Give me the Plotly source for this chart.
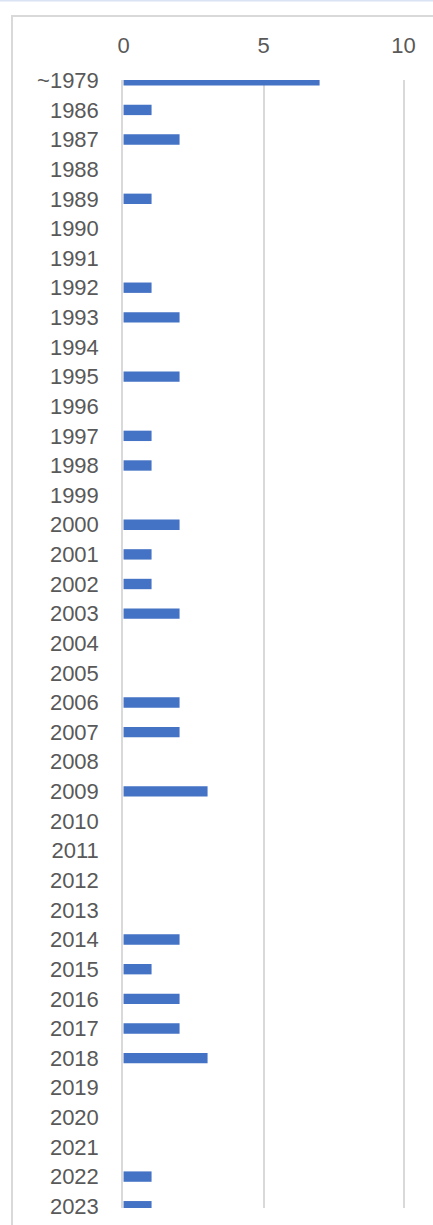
import plotly.graph_objects as go

categories = ["~1979"] + [str(y) for y in range(1986, 2024)]
values = [7, 1, 2, 0, 1, 0, 0, 1, 2, 0, 2, 0, 1, 1, 0, 2, 1, 1, 2, 0, 0,
          2, 2, 0, 3, 0, 0, 0, 0, 2, 1, 2, 2, 3, 0, 0, 0, 1, 1]
x_ticks = [0, 5, 10]

W, H = 433, 1225
L, R, T, B = 123, 28, 80, 17
pw, ph = W - L - R, H - T - B

FONT = "Liberation Sans, Arial, sans-serif"
fig = go.Figure(go.Bar(
    x=values, y=categories, orientation="h",
    marker=dict(color="#4472C4", line=dict(width=0)),
    width=0.35,
))

n = len(categories)
fig.update_layout(
    width=W, height=H,
    margin=dict(l=L, r=R, t=T, b=B, pad=0, autoexpand=False),
    paper_bgcolor="white", plot_bgcolor="white",
    showlegend=False,
    font=dict(family=FONT, size=22, color="#595959"),
    xaxis=dict(side="top", range=[-0.02, 10.05], tickvals=x_ticks, showgrid=True,
               gridcolor="#d9d9d9", gridwidth=1.5, zeroline=False,
               ticks="", showline=False, ticklabelstandoff=22, automargin=False,
               fixedrange=True, tickfont=dict(family=FONT, size=22, color="#595959")),
    yaxis=dict(type="category", categoryorder="array", categoryarray=categories,
               range=[n - 1 + 0.06, -0.01], showgrid=False, ticks="",
               showline=True, linecolor="#d9d9d9", linewidth=1.5,
               ticklabelstandoff=18, automargin=False, fixedrange=True,
               tickfont=dict(family=FONT, size=22, color="#595959")),
    shapes=[
        dict(type="rect", xref="paper", yref="paper",
             x0=(12 - L) / pw, x1=(445 - L) / pw,
             y0=-(1240 - (H - B)) / ph, y1=1 + (T - 16) / ph,
             line=dict(color="#d9d9d9", width=2), fillcolor="rgba(0,0,0,0)", layer="below"),
        dict(type="rect", xref="paper", yref="paper",
             x0=-L / pw, x1=(W + 5 - L) / pw,
             y0=1 + (T - 1.5) / ph, y1=1 + (T + 2) / ph,
             line=dict(width=0), fillcolor="#dae3f3", layer="below"),
    ],
)

fig.write_html("out.html", config={"displayModeBar": False},
               post_script="document.body.style.margin='0';document.body.style.padding='0';document.body.style.overflow='hidden';")
